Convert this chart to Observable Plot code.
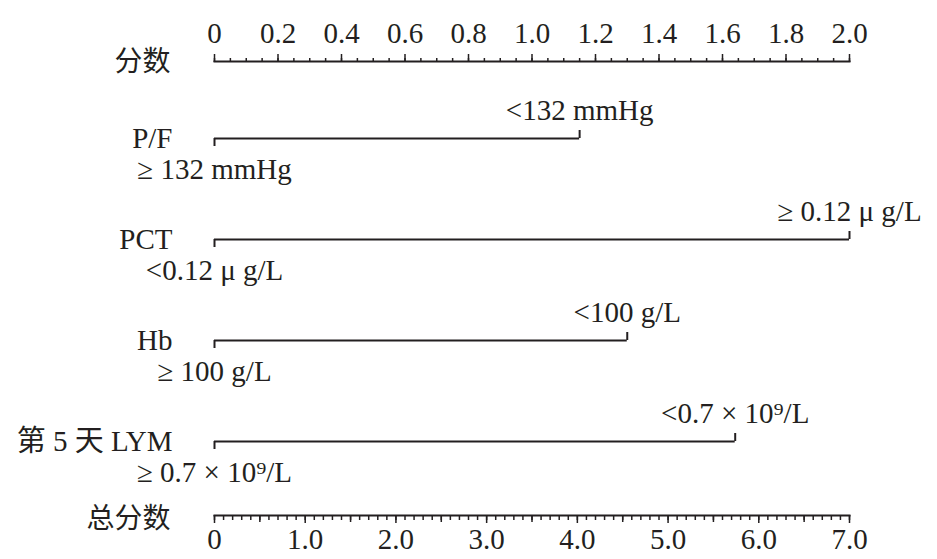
<!DOCTYPE html>
<html>
<head>
<meta charset="utf-8">
<script src="https://cdn.jsdelivr.net/npm/d3@7"></script>
<script src="https://cdn.jsdelivr.net/npm/@observablehq/plot@0.6"></script>
<style>
  body { margin: 0; background: #fff; }
</style>
</head>
<body>
<div id="chart"></div>
<script>
// nomogram rows, points of the risk level and the level labels
const rows = ["P/F", "PCT", "Hb", "第 5 天 LYM"]
const rowPoints = [1.15, 2.0, 1.30, 1.64]
const lowLevels = ["≥ 132 mmHg", "<0.12 μ g/L", "≥ 100 g/L", "≥ 0.7 × 10⁹/L"]
const highLevels = ["<132 mmHg", "≥ 0.12 μ g/L", "<100 g/L", "<0.7 × 10⁹/L"]

// axes
const pointTicks = [0, 0.2, 0.4, 0.6, 0.8, 1.0, 1.2, 1.4, 1.6, 1.8, 2.0]
const pointTickLabels = ["0", "0.2", "0.4", "0.6", "0.8", "1.0", "1.2", "1.4", "1.6", "1.8", "2.0"]
const totalTicks = [0, 1, 2, 3, 4, 5, 6, 7]
const totalTickLabels = ["0", "1.0", "2.0", "3.0", "4.0", "5.0", "6.0", "7.0"]
const maxPoints = 2
const maxTotal = 7

const data = rows.map((r, i) => ({row: r, points: rowPoints[i], low: lowLevels[i], high: highLevels[i]}))
const toPoints = t => t * maxPoints / maxTotal
const pointMinor = d3.range(0, 41).map(i => i * 0.05)
const totalMinor = d3.range(0, 71).map(i => i / 10)
const totalHalf = d3.range(0, 7).map(i => i + 0.5)

let chart = Plot.plot({
  width: 937,
  height: 559,
  marginLeft: 214,
  marginRight: 88,
  marginTop: 61,
  marginBottom: 44,
  style: {fontFamily: '"Liberation Serif", "Noto Sans CJK SC", serif', fontSize: "29px", color: "#231f20", background: "#fff"},
  x: {domain: [0, maxPoints], label: null},
  y: {type: "point", domain: rows, padding: 0, insetTop: 76, insetBottom: 73, axis: null},
  marks: [
    // top "分数" axis
    Plot.frame({anchor: "top", strokeWidth: 2}),
    Plot.axisX(pointMinor, {anchor: "top", tickSize: 4, strokeWidth: 1.5, tickFormat: () => ""}),
    Plot.axisX(pointTicks, {anchor: "top", tickSize: 8, tickPadding: 11, strokeWidth: 1.5,
      tickFormat: d => pointTickLabels[pointTicks.indexOf(d)]}),
    Plot.text(["分数"], {frameAnchor: "top-left", lineAnchor: "middle", textAnchor: "end", dx: -44, dy: 1, fontSize: 28}),

    // bottom "总分数" axis
    Plot.frame({anchor: "bottom", strokeWidth: 2}),
    Plot.axisX(totalMinor.map(toPoints), {anchor: "bottom", tickSize: 5, strokeWidth: 1.5, tickFormat: () => ""}),
    Plot.axisX(totalHalf.map(toPoints), {anchor: "bottom", tickSize: 7, strokeWidth: 1.5, tickFormat: () => ""}),
    Plot.axisX(totalTicks.map(toPoints), {anchor: "bottom", tickSize: 8, tickPadding: 5, strokeWidth: 1.5,
      tickFormat: d => totalTickLabels[Math.round(d * maxTotal / maxPoints)]}),
    Plot.text(["总分数"], {frameAnchor: "bottom-left", lineAnchor: "middle", textAnchor: "end", dx: -44, dy: 4, fontSize: 28}),

    // variable lines, with a down tick at 0 and an up tick at the end
    Plot.ruleY(data, {y: "row", x1: 0, x2: "points", strokeWidth: 2}),
    Plot.ruleX(data, {x: 0, y1: "row", y2: "row", insetTop: 0, insetBottom: -8, strokeWidth: 2}),
    Plot.ruleX(data, {x: "points", y1: "row", y2: "row", insetTop: -8, insetBottom: 0, strokeWidth: 2}),
    Plot.text(data, {x: 0, y: "row", text: "row", textAnchor: "end", dx: -42, dy: 0}),
    Plot.text(data, {x: 0, y: "row", text: "low", dy: 31}),
    Plot.text(data, {x: "points", y: "row", text: "high", dy: -28})
  ]
})

d3.select('#chart').append(() => chart)
</script>
</body>
</html>
